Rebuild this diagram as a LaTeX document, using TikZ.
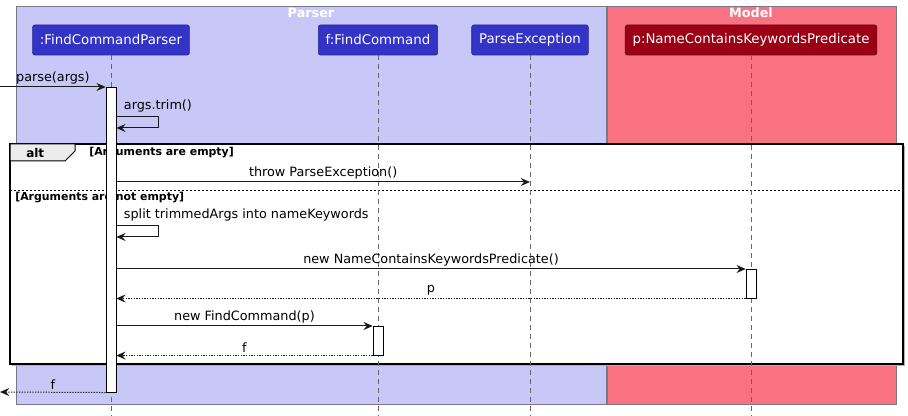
\documentclass[tikz,border=0pt]{standalone}
\usepackage{fontspec}
\setmainfont{DejaVu Sans}
\usetikzlibrary{calc}
\usetikzlibrary{arrows.meta}

\definecolor{parserbg}{RGB}{200,200,248}
\definecolor{modelbg}{RGB}{248,114,130}
\definecolor{partblue}{RGB}{51,51,200}
\definecolor{partred}{RGB}{155,0,20}
\definecolor{laneborder}{RGB}{120,120,140}

\begin{document}
\begin{tikzpicture}[x=0.75pt, y=-0.75pt,
    lane/.style={draw=laneborder, fill=#1},
    lanetitle/.style={text=white, font=\bfseries\fontsize{9.6}{11}\selectfont},
    part/.style={draw=#1!70!black, fill=#1, text=white, rounded corners=1.5pt,
        minimum height=22.5pt, inner xsep=5.5pt, font=\fontsize{10}{12}\selectfont},
    life/.style={draw=gray!80!black, dash pattern=on 3.75pt off 3pt},
    actbar/.style={draw=black, fill=white, minimum width=7.5pt, inner sep=0pt, anchor=north},
    msg/.style={draw=black!90, line width=0.75pt, -{Stealth[length=7pt, width=6pt, inset=2.5pt]}},
    ret/.style={msg, dash pattern=on 1pt off 1pt},
    lbl/.style={font=\fontsize{9.6}{11}\selectfont, text=black, inner sep=2pt},
    cond/.style={font=\bfseries\fontsize{8.2}{10}\selectfont, inner sep=0pt, anchor=west}]
    \useasboundingbox (0,0) rectangle (908,416);

    % lanes
    \draw [lane=parserbg] (16,6) rectangle (606,404);
    \draw [lane=modelbg] (607,6) rectangle (896,404);
    \node [lanetitle] (parsertitle) at (311,13) {Parser};
    \node [lanetitle] (modeltitle) at (751,13) {Model};

    % participants
    \node [part=partblue] (fcp) at (111,40) {:FindCommandParser};
    \node [part=partblue] (fc) at (378,40) {f:FindCommand};
    \node [part=partblue] (pe) at (530,40) {ParseException};
    \node [part=partred] (pred) at (751,40) {p:NameContainsKeywordsPredicate};

    % alt frame
    \fill [gray!60] (12,146) rectangle (905,366);
    \draw [line width=1.1pt, fill=white] (10,144) rectangle (903,364);
    \draw [line width=0.75pt, fill=gray!15] (10,144) -- (75,144) -- (75,151) -- (65,161) -- (10,161) -- cycle;
    \node [cond, font=\bfseries\fontsize{9}{10}\selectfont] (alttag) at (26,153) {alt};
    \node [cond] (cond1) at (89,153) {[Arguments are empty]};
    \draw [dash pattern=on 1.5pt off 1.5pt] (10,190) -- (903,190);
    \node [cond] (cond2) at (15,198) {[Arguments are not empty]};

    % lifelines
    \foreach \p in {fcp, fc, pe, pred}
        \draw [life] (\p.south) -- (\p.south |- 0,416);

    % activations
    \node [actbar, minimum height=228.75pt] (act1) at (111,87) {};
    \node [actbar, minimum height=21.75pt] (act2) at (751,269) {};
    \node [actbar, minimum height=21.75pt] (act3) at (378,326) {};

    \coordinate (caller) at (0,87);
    \coordinate (back) at (0,392);

    % messages
    \draw [msg] (caller) -- (act1.north west) node [lbl, above, midway] {parse(args)};
    \draw [msg] (act1.east |- 0,117) -- ++(42,0) -- ++(0,11) -- (act1.east |- 0,128);
    \node [lbl, anchor=south west] (trimlbl) at (121,115) {args.trim()};
    \draw [msg] (act1.east |- 0,182) -- (pe.south |- 0,182) node [lbl, above, midway] {throw ParseException()};
    \draw [msg] (act1.east |- 0,226) -- ++(42,0) -- ++(0,11) -- (act1.east |- 0,237);
    \node [lbl, anchor=south west] (splitlbl) at (121,224) {split trimmedArgs into nameKeywords};
    \draw [msg] (act1.east |- act2.north) -- (act2.north west) node [lbl, above, midway] {new NameContainsKeywordsPredicate()};
    \draw [ret] (act2.south west) -- (act1.east |- act2.south) node [lbl, above, midway] {p};
    \draw [msg] (act1.east |- act3.north) -- (act3.north west) node [lbl, above, midway] {new FindCommand(p)};
    \draw [ret] (act3.south west) -- (act1.east |- act3.south) node [lbl, above, midway] {f};
    \draw [ret] (act1.south west) -- (back) node [lbl, above, midway] {f};
\end{tikzpicture}
\end{document}
